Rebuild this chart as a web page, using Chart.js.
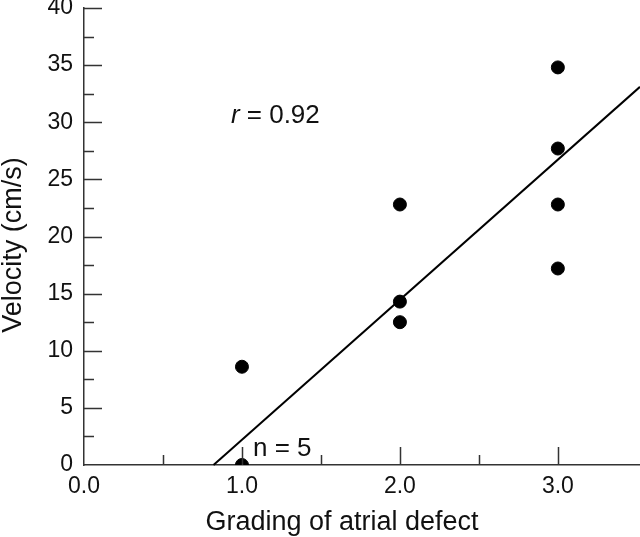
<!DOCTYPE html>
<html>
<head>
  <meta charset="UTF-8">
  <title>Velocity vs grading of atrial defect</title>
  <script src="https://cdn.jsdelivr.net/npm/chart.js@4.4.1/dist/chart.umd.min.js"></script>
  <style>
    html, body { margin: 0; padding: 0; background: #fff; }
    #wrap { width: 640px; height: 537px; }
  </style>
</head>
<body>
  <div id="wrap"><canvas id="scatter"></canvas></div>

  <script>
    // measured points (grade, velocity cm/s)
    const grades = [1, 1, 2, 2, 2, 3, 3, 3, 3];
    const velocity = [0, 8.6, 22.8, 14.3, 12.5, 34.8, 27.7, 22.8, 17.2];

    // regression line end points
    const fitX = [0.82, 3.52];
    const fitY = [0, 33.1];

    const xTicks = [0, 0.5, 1, 1.5, 2, 2.5, 3];
    const yTicks = [0, 2.5, 5, 7.5, 10, 12.5, 15, 17.5, 20, 22.5, 25, 27.5, 30, 32.5, 35, 37.5, 40];

    const xTitle = 'Grading of atrial defect';
    const yTitle = 'Velocity (cm/s)';

    const FONT = '"Liberation Sans", Arial, Helvetica, sans-serif';

    // inward tick marks, axis titles and the two notes
    const innerTicks = {
      id: 'innerTicks',
      afterDraw(chart) {
        const ctx = chart.ctx;
        const xs = chart.scales.x, ys = chart.scales.y;
        const area = chart.chartArea;
        ctx.save();
        ctx.strokeStyle = '#333';
        ctx.lineWidth = 1.5;
        ctx.beginPath();
        xs.ticks.forEach(t => {
          if (t.value === 0) return;
          const px = Math.round(xs.getPixelForValue(t.value)) + 0.5;
          const len = t.value % 1 === 0 ? 18 : 10;
          ctx.moveTo(px, area.bottom);
          ctx.lineTo(px, area.bottom - len);
        });
        ys.ticks.forEach(t => {
          if (t.value === 0) return;
          const py = Math.round(ys.getPixelForValue(t.value)) + 0.5;
          const len = t.value % 5 === 0 ? 18 : 10;
          ctx.moveTo(area.left, py);
          ctx.lineTo(area.left + len, py);
        });
        ctx.stroke();

        ctx.fillStyle = '#111';

        // axis titles (the original sits a little off centre)
        ctx.font = '27px ' + FONT;
        ctx.textAlign = 'center';
        ctx.textBaseline = 'alphabetic';
        ctx.fillText(xTitle, 342, 530);
        ctx.save();
        ctx.translate(21, 245);
        ctx.rotate(-Math.PI / 2);
        ctx.fillText(yTitle, 0, 0);
        ctx.restore();

        // notes
        ctx.textAlign = 'left';
        let x = xs.getPixelForValue(0.93), y = ys.getPixelForValue(29.9);
        ctx.font = 'italic 26px ' + FONT;
        ctx.fillText('r', x, y);
        x += ctx.measureText('r').width;
        ctx.font = '26px ' + FONT;
        ctx.fillText(' = 0.92', x, y);
        ctx.fillText('n = 5', xs.getPixelForValue(1.07), ys.getPixelForValue(0.8));
        ctx.restore();
      }
    };

    new Chart(document.getElementById('scatter'), {
      type: 'scatter',
      data: {
        datasets: [
          {
            label: 'patients',
            data: grades.map((g, i) => ({ x: g, y: velocity[i] })),
            backgroundColor: '#000',
            borderColor: '#000',
            pointRadius: 6.5,
            pointHoverRadius: 6.5
          },
          {
            type: 'line',
            label: 'fit',
            data: fitX.map((x, i) => ({ x: x, y: fitY[i] })),
            borderColor: '#000',
            borderWidth: 2,
            pointRadius: 0,
            fill: false,
            clip: false
          }
        ]
      },
      options: {
        responsive: true,
        maintainAspectRatio: false,
        animation: false,
        layout: { autoPadding: false, padding: { top: 8, right: 0, left: 0, bottom: 0 } },
        plugins: {
          legend: { display: false },
          tooltip: { enabled: false }
        },
        scales: {
          x: {
            type: 'linear',
            min: 0,
            max: 3.52,
            afterBuildTicks: s => { s.ticks = xTicks.map(v => ({ value: v })); },
            afterFit: s => { s.height = 72; s.paddingLeft = 0; s.paddingRight = 0; },
            grid: { display: false, drawTicks: false },
            border: { display: true, color: '#333', width: 1.5 },
            ticks: {
              autoSkip: false,
              maxRotation: 0,
              padding: 8,
              color: '#111',
              font: { family: FONT, size: 23 },
              callback: v => (v % 1 === 0 ? v.toFixed(1) : '')
            },
            title: { display: false }
          },
          y: {
            min: 0,
            max: 40,
            afterBuildTicks: s => { s.ticks = yTicks.map(v => ({ value: v })); },
            afterFit: s => { s.width = 84; s.paddingTop = 0; s.paddingBottom = 0; },
            grid: { display: false, drawTicks: false },
            border: { display: true, color: '#333', width: 1.5 },
            ticks: {
              autoSkip: false,
              padding: 11,
              color: '#111',
              font: { family: FONT, size: 23 },
              callback: v => (v % 5 === 0 ? String(v) : '')
            },
            title: { display: false }
          }
        }
      },
      plugins: [innerTicks]
    });
  </script>
</body>
</html>
